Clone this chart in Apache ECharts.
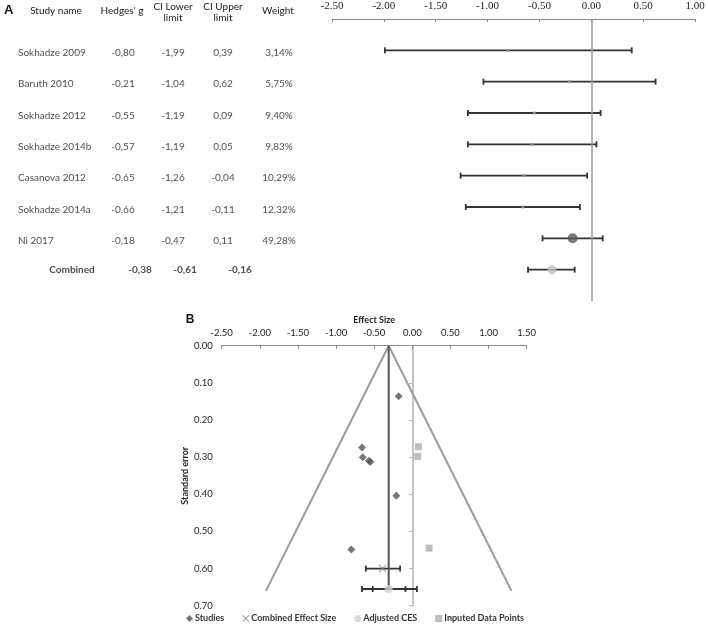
<!DOCTYPE html>
<html lang="en">
<head>
<meta charset="UTF-8">
<title>Forest and funnel plot</title>
<script src="https://cdn.jsdelivr.net/npm/echarts@6/dist/echarts.min.js"></script>
</head>
<body style="margin:0;background:#fff">
<div id="main" style="width:708px;height:628px;"></div>
<script>
// panel A: forest plot data
var studies = ['Sokhadze 2009', 'Baruth 2010', 'Sokhadze 2012', 'Sokhadze 2014b',
               'Casanova 2012', 'Sokhadze 2014a', 'Ni 2017'];
var hedgesG = [-0.80, -0.21, -0.55, -0.57, -0.65, -0.66, -0.18];
var ciLower = [-1.99, -1.04, -1.19, -1.19, -1.26, -1.21, -0.47];
var ciUpper = [0.39, 0.62, 0.09, 0.05, -0.04, -0.11, 0.11];
var weights = [3.14, 5.75, 9.40, 9.83, 10.29, 12.32, 49.28];
var combined = [-0.38, -0.61, -0.16];   // g, lower, upper

// panel B: funnel plot data
var studySE = [0.549, 0.404, 0.313, 0.310, 0.300, 0.274, 0.136];
var imputedG = [0.08, 0.07, 0.22];
var imputedSE = [0.272, 0.298, 0.545];
var combinedCES = [-0.39, 0.60];
var combinedCI = [-0.61, -0.16];
var adjustedCES = [-0.31, 0.655];
var adjustedCI = [-0.66, 0.06];
var adjustedInner = [-0.52, -0.09];
var funnelEdges = [-1.92, 1.30];        // x at the base of the funnel
var funnelBaseSE = 0.66;

var xTicksA = [-2.5, 1.0];
var xTicksB = [-2.5, 1.5];

var myChart = echarts.init(document.getElementById('main'));

function fmt(v) { return v.toFixed(2).replace('.', ','); }

function renderBar(params, api) {
    var lo = api.coord([api.value(0), api.value(2)]);
    var hi = api.coord([api.value(1), api.value(2)]);
    var h = 3;
    var st = {stroke: '#333', lineWidth: 1.8};
    return {
        type: 'group',
        children: [
            {type: 'line', shape: {x1: lo[0], y1: lo[1], x2: hi[0], y2: hi[1]}, style: st},
            {type: 'line', shape: {x1: lo[0], y1: lo[1] - h, x2: lo[0], y2: lo[1] + h}, style: st},
            {type: 'line', shape: {x1: hi[0], y1: hi[1] - h, x2: hi[0], y2: hi[1] + h}, style: st}
        ]
    };
}

// forest bars, one row per study + combined
var forestBars = studies.map(function (s, i) { return [ciLower[i], ciUpper[i], i]; });
forestBars.push([combined[1], combined[2], studies.length]);

var forestPoints = hedgesG.map(function (g, i) {
    if (weights[i] > 40) {
        return {value: [g, i], symbol: 'circle', symbolSize: 10, itemStyle: {color: '#5a5a5a'}};
    }
    return {value: [g, i], symbol: 'rect', symbolSize: 3, itemStyle: {color: '#9a9a9a'}};
});
forestPoints.push({value: [combined[0], studies.length], symbol: 'circle', symbolSize: 9, itemStyle: {color: '#bdbdbd'}});

function tableColumn(x, texts, bold, align) {
    return {
        type: 'scatter',
        xAxisIndex: 1, yAxisIndex: 1,
        symbolSize: 0,
        silent: true,
        data: texts.map(function (t) { return [x, t[1], t[0]]; }),
        label: {
            show: true,
            position: align === 'left' ? 'right' : 'inside',
            distance: 0,
            offset: [0, bold ? 0 : 2.5],
            formatter: function (p) { return p.value[2]; },
            fontFamily: 'Lato', fontSize: 10, color: '#222',
            fontWeight: bold ? 'bold' : 'normal'
        }
    };
}
function rows(arr, f) { return arr.map(function (v, i) { return [f(v), i]; }); }
var n = studies.length;
var xMark = 'path://M0,1L1,0L5,4L9,0L10,1L6,5L10,9L9,10L5,6L1,10L0,9L4,5Z';

var option = {
    animation: false,
    backgroundColor: '#fff',
    grid: [
        {left: 332, top: 19, width: 363, height: 282},
        {left: 0, top: 19, width: 320, height: 282},
        {left: 221.7, top: 345.7, width: 305, height: 260}
    ],
    xAxis: [
        {
            gridIndex: 0, type: 'value', position: 'top',
            min: xTicksA[0], max: xTicksA[1], interval: 0.5,
            axisLine: {onZero: false, lineStyle: {color: '#8a8a8a', width: 1}},
            axisTick: {inside: true, length: 3, lineStyle: {color: '#8a8a8a'}},
            axisLabel: {margin: 7, fontFamily: 'Liberation Serif', fontSize: 11, color: '#222',
                        formatter: function (v) { return v.toFixed(2); }},
            splitLine: {show: false}
        },
        {gridIndex: 1, type: 'value', min: 0, max: 320, show: false},
        {
            gridIndex: 2, type: 'value', position: 'top',
            min: xTicksB[0], max: xTicksB[1], interval: 0.5,
            name: 'Effect Size', nameLocation: 'middle', nameGap: 21,
            nameTextStyle: {fontFamily: 'Lato', fontSize: 9, fontWeight: 'bold', color: '#222'},
            axisLine: {show: true, onZero: false, lineStyle: {color: '#8a8a8a', width: 1}},
            axisTick: {inside: true, length: 3, lineStyle: {color: '#8a8a8a'}},
            axisLabel: {margin: 8, fontFamily: 'Lato', fontSize: 9.5, color: '#222',
                        formatter: function (v) { return v.toFixed(2); }},
            splitLine: {show: false}
        }
    ],
    yAxis: [
        {gridIndex: 0, type: 'value', inverse: true, min: -1, max: 8, show: false, axisLine: {onZero: false}},
        {gridIndex: 1, type: 'value', inverse: true, min: -1, max: 8, show: false, axisLine: {onZero: false}},
        {
            gridIndex: 2, type: 'value', inverse: true, min: 0, max: 0.7, interval: 0.1,
            name: 'Standard error', nameLocation: 'middle', nameGap: 26,
            nameTextStyle: {fontFamily: 'Lato', fontSize: 9, fontWeight: 'bold', color: '#222'},
            axisLine: {show: false, onZero: false},
            axisTick: {show: false},
            axisLabel: {margin: 9, fontFamily: 'Lato', fontSize: 9.5, color: '#222',
                        formatter: function (v) { return v.toFixed(2); }},
            splitLine: {show: false}
        },
        {
            gridIndex: 2, type: 'value', inverse: true, min: 0, max: 0.7, interval: 0.1,
            axisLine: {show: true, onZero: true, lineStyle: {color: '#b0b0b0', width: 1.5}},
            axisTick: {show: true, inside: true, length: 3, lineStyle: {color: '#b0b0b0'}},
            axisLabel: {show: false},
            splitLine: {show: false}
        }
    ],
    legend: {
        left: 186, top: 614, padding: 0,
        itemWidth: 7, itemHeight: 7, itemGap: 18,
        textStyle: {fontFamily: 'Lato', fontSize: 9, fontWeight: 'bold', color: '#333', padding: [0, 0, 0, -3]},
        data: [
            {name: 'Studies', icon: 'diamond'},
            {name: 'Combined Effect Size', icon: xMark},
            {name: 'Adjusted CES', icon: 'circle'},
            {name: 'Inputed Data Points', icon: 'rect'}
        ]
    },
    graphic: [
        {type: 'text', left: 4, top: 4, style: {text: 'A', font: 'bold 13px Arial', fill: '#111'}},
        {type: 'text', x: 56, y: 11, style: {text: 'Study name', align: 'center', verticalAlign: 'middle', fill: '#222', font: '10px Lato'}},
        {type: 'text', x: 122, y: 11, style: {text: "Hedges' g", align: 'center', verticalAlign: 'middle', fill: '#222', font: '10px Lato'}},
        {type: 'text', x: 173, y: 12, style: {text: 'CI Lower\nlimit', align: 'center', verticalAlign: 'middle', fill: '#222', font: '10px Lato', lineHeight: 11}},
        {type: 'text', x: 223, y: 12, style: {text: 'CI Upper\nlimit', align: 'center', verticalAlign: 'middle', fill: '#222', font: '10px Lato', lineHeight: 11}},
        {type: 'text', x: 278, y: 11, style: {text: 'Weight', align: 'center', verticalAlign: 'middle', fill: '#222', font: '10px Lato'}},
        {type: 'text', x: 190, y: 320, style: {text: 'B', align: 'center', verticalAlign: 'middle', fill: '#111', font: 'bold 12px Arial'}}
    ],
    series: [
        {
            type: 'custom', xAxisIndex: 0, yAxisIndex: 0,
            renderItem: renderBar, encode: {x: [0, 1], y: 2},
            data: forestBars, silent: true, z: 3,
            markLine: {
                silent: true, symbol: 'none', label: {show: false},
                lineStyle: {color: '#9a9a9a', width: 1.5, type: 'solid'},
                data: [{xAxis: 0}]
            }
        },
        {type: 'scatter', xAxisIndex: 0, yAxisIndex: 0, data: forestPoints, z: 4, silent: true},
        tableColumn(18, rows(studies, function (s) { return s; }), false, 'left'),
        tableColumn(123, rows(hedgesG, fmt), false),
        tableColumn(173, rows(ciLower, fmt), false),
        tableColumn(223, rows(ciUpper, fmt), false),
        tableColumn(279, rows(weights, function (w) { return fmt(w) + '%'; }), false),
        tableColumn(72, [['Combined', n]], true),
        tableColumn(140, [[fmt(combined[0]), n]], true),
        tableColumn(185, [[fmt(combined[1]), n]], true),
        tableColumn(240, [[fmt(combined[2]), n]], true),

        // panel B
        {
            type: 'line', xAxisIndex: 2, yAxisIndex: 2, silent: true, symbol: 'none',
            lineStyle: {color: '#9a9a9a', width: 2},
            data: [[funnelEdges[0], funnelBaseSE], [adjustedCES[0], 0], [funnelEdges[1], funnelBaseSE]]
        },
        {
            type: 'line', xAxisIndex: 2, yAxisIndex: 2, silent: true, symbol: 'none',
            lineStyle: {color: '#555', width: 2},
            data: [[adjustedCES[0], 0], [adjustedCES[0], adjustedCES[1]]]
        },
        {
            type: 'custom', xAxisIndex: 2, yAxisIndex: 2, silent: true,
            renderItem: renderBar, encode: {x: [0, 1], y: 2},
            data: [
                [combinedCI[0], combinedCI[1], combinedCES[1]],
                [adjustedCI[0], adjustedCI[1], adjustedCES[1]],
                [adjustedInner[0], adjustedInner[1], adjustedCES[1]]
            ]
        },
        {
            name: 'Studies', type: 'scatter', xAxisIndex: 2, yAxisIndex: 2,
            symbol: 'diamond', symbolSize: 8, itemStyle: {color: '#555'},
            data: hedgesG.map(function (g, i) { return [g, studySE[i]]; })
        },
        {
            name: 'Combined Effect Size', type: 'scatter', xAxisIndex: 2, yAxisIndex: 2,
            symbol: xMark, symbolSize: 8, itemStyle: {color: '#888'}, z: 5,
            data: [combinedCES]
        },
        {
            name: 'Adjusted CES', type: 'scatter', xAxisIndex: 2, yAxisIndex: 2,
            symbol: 'circle', symbolSize: 8, itemStyle: {color: '#cfcfcf'}, z: 5,
            data: [adjustedCES]
        },
        {
            name: 'Inputed Data Points', type: 'scatter', xAxisIndex: 2, yAxisIndex: 2,
            symbol: 'rect', symbolSize: 7, itemStyle: {color: '#acacac'},
            data: imputedG.map(function (g, i) { return [g, imputedSE[i]]; })
        }
    ]
};

myChart.setOption(option);
</script>
</body>
</html>
